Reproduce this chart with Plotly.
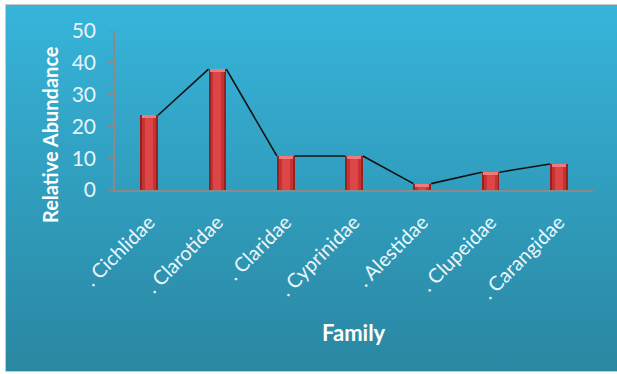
import base64
import plotly.graph_objects as go

# ---- data ----
families = ["Cichlidae", "Clarotidae", "Claridae", "Cyprinidae", "Alestidae", "Clupeidae", "Carangidae"]
tick_labels = [". " + f for f in families]
abundance = [23.5, 38.0, 10.7, 10.7, 2.0, 5.6, 8.2]
y_ticks = [0, 10, 20, 30, 40, 50]

W, H = 617, 374
ML, MR, MT, MB = 115, 24, 31, 184
PW, PH = W - ML - MR, H - MT - MB

def px_to_paper_x(p):
    return (p - ML) / PW

def px_to_paper_y(p):
    return (H - MB - p) / PH

xs = list(range(len(families)))
bar_w = 0.26

# line segments joining bar top corners
line_x, line_y = [], []
for i in range(len(xs) - 1):
    line_x += [xs[i] + bar_w / 2, xs[i + 1] - bar_w / 2, None]
    line_y += [abundance[i], abundance[i + 1], None]

fig = go.Figure()
# cylinder-like shading with layered bars
for w, c in [(bar_w, "#9c1f1f"), (bar_w * 0.78, "#c43232"), (bar_w * 0.45, "#dc4646")]:
    fig.add_trace(go.Bar(x=xs, y=abundance, width=w, marker=dict(color=c, line=dict(width=0)),
                         showlegend=False))
# light cap at top of each bar
fig.add_trace(go.Bar(x=xs, y=[0.9] * len(xs), base=[v - 0.9 for v in abundance], width=bar_w * 0.8,
                     marker=dict(color="#ee7a7a", line=dict(width=0)), showlegend=False))
fig.add_trace(go.Scatter(x=line_x, y=line_y, mode="lines", connectgaps=False,
                         line=dict(color="#111111", width=1.6),
                         hoverinfo="skip", showlegend=False))

# gradient background as svg image
svg = ('<svg xmlns="http://www.w3.org/2000/svg" width="100" height="100" preserveAspectRatio="none">'
       '<defs><linearGradient id="g" x1="0" y1="0" x2="0" y2="1">'
       '<stop offset="0" stop-color="#37b4da"/><stop offset="1" stop-color="#2a87a2"/>'
       '</linearGradient></defs><rect width="100" height="100" fill="url(#g)"/></svg>')
src = "data:image/svg+xml;base64," + base64.b64encode(svg.encode()).decode()

x0p, x1p = px_to_paper_x(6), px_to_paper_x(617)
y0p, y1p = px_to_paper_y(5), px_to_paper_y(371)

fig.update_layout(
    width=W, height=H,
    margin=dict(l=ML, r=MR, t=MT, b=MB),
    paper_bgcolor="white", plot_bgcolor="rgba(0,0,0,0)",
    barmode="overlay", bargap=0,
    font=dict(family="Lato, Open Sans, sans-serif", color="#e6f4f8"),
    images=[dict(source=src, xref="paper", yref="paper", x=x0p, y=y0p,
                 sizex=x1p - x0p, sizey=y0p - y1p, xanchor="left", yanchor="top",
                 sizing="stretch", layer="below")],
    shapes=[dict(type="rect", xref="paper", yref="paper", x0=px_to_paper_x(5.5), x1=px_to_paper_x(618),
                 y0=px_to_paper_y(4.5), y1=px_to_paper_y(371.5),
                 line=dict(color="#c9c9c9", width=1), layer="below")],
    xaxis=dict(range=[-0.5, 6.5], tickvals=xs, ticktext=tick_labels, tickangle=-45,
               showline=True, linecolor="#8a8a8a", linewidth=1.5, showgrid=False, zeroline=False,
               ticks="", tickfont=dict(size=20, color="#eaf6fa"), ticklabelstandoff=11),
    yaxis=dict(range=[0, 50], tickvals=y_ticks, showline=True, linecolor="#8a8a8a", linewidth=1.5,
               showgrid=False, zeroline=False, ticks="outside", ticklen=5, tickcolor="#8a8a8a",
               tickfont=dict(size=21, color="#e6f4f8"), ticklabelstandoff=8),
    annotations=[
        dict(text="<b>Relative Abundance</b>", xref="paper", yref="paper",
             x=px_to_paper_x(50), y=px_to_paper_y(135), textangle=-90, showarrow=False,
             font=dict(size=20, color="white"), xanchor="center", yanchor="middle"),
        dict(text="<b>Family</b>", xref="paper", yref="paper",
             x=px_to_paper_x(354), y=px_to_paper_y(332), showarrow=False,
             font=dict(size=22, color="white"), xanchor="center", yanchor="middle"),
    ],
)

fig.write_html("out.html")
